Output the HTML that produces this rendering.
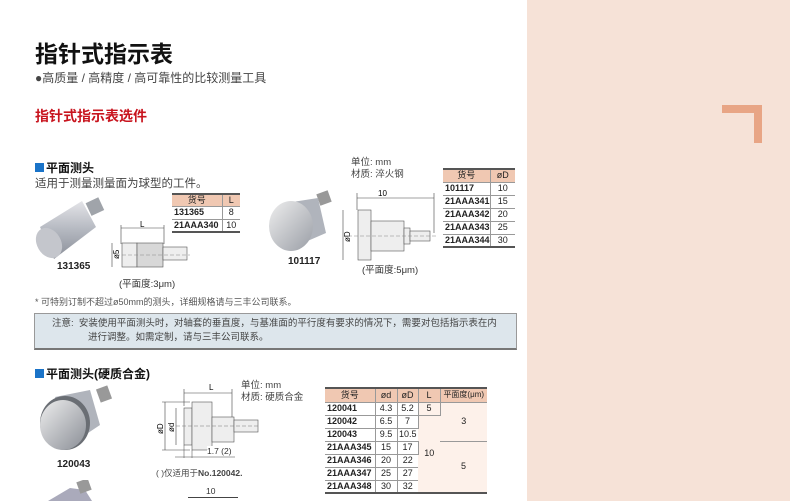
<!DOCTYPE html>
<html><head><meta charset="utf-8"><style>
*{margin:0;padding:0;box-sizing:border-box}
body{width:790px;height:501px;overflow:hidden;background:#fff;position:relative;font-family:"Liberation Sans","Noto Sans CJK SC",sans-serif;color:#222}
.a{position:absolute;white-space:nowrap}
table{position:absolute;border-collapse:collapse;font-size:9px;line-height:1}
td{border-bottom:1px solid #999;border-right:1px solid #999;text-align:center;padding:0}
td.c{text-align:left;font-weight:bold;padding-left:2px}
tr.h td{background:#f0c8b2;font-weight:normal;text-align:center}
table{border-top:2px solid #555;border-bottom:2px solid #555}
td:last-child{border-right:none}
</style></head><body>
<div class="a" style="left:527px;top:0;width:263px;height:501px;background:#f6e2d7"></div>
<div class="a" style="left:722px;top:105px;width:40px;height:8px;background:#e8a585"></div>
<div class="a" style="left:754px;top:105px;width:8px;height:38px;background:#e8a585"></div>

<div class="a" style="left:35px;top:35px;font-size:23px;font-weight:bold;color:#111">指针式指示表</div>
<div class="a" style="left:35px;top:69px;font-size:12px;color:#444">●高质量 / 高精度 / 高可靠性的比较测量工具</div>
<div class="a" style="left:35px;top:106px;font-size:14px;font-weight:bold;color:#c8141e">指针式指示表选件</div>

<div class="a" style="left:35px;top:159px;font-size:12px;font-weight:bold;color:#111"><span style="display:inline-block;width:9px;height:9px;background:#1a73c8;margin-right:2px"></span>平面测头</div>
<div class="a" style="left:35px;top:175px;font-size:11.5px;color:#444">适用于测量测量面为球型的工件。</div>

<table style="left:172px;top:193px;width:68px">
<tr class="h" style="height:12px"><td style="width:50px">货号</td><td>L</td></tr>
<tr style="height:13px"><td class="c">131365</td><td>8</td></tr>
<tr style="height:13px"><td class="c">21AAA340</td><td>10</td></tr>
</table>

<svg class="a" style="left:30px;top:195px" width="80" height="68">
<defs><linearGradient id="g1" x1="0" y1="0" x2="0" y2="1"><stop offset="0" stop-color="#e4e4e8"/><stop offset=".5" stop-color="#b4b8c0"/><stop offset="1" stop-color="#8a8e98"/></linearGradient></defs>
<rect x="58" y="5" width="14" height="14" fill="#a0a4aa" transform="rotate(-25 64 12)"/>
<path d="M10 32 L52 6 L66 32 L24 64 Z" fill="url(#g1)"/>
<ellipse cx="19" cy="48" rx="12" ry="16" fill="#c4c6cc" transform="rotate(-30 19 48)"/>
</svg>
<div class="a" style="left:57px;top:261px;font-size:10px;font-weight:bold">131365</div>

<svg class="a" style="left:108px;top:220px" width="85" height="52" font-family="Liberation Sans">
<line x1="13" y1="5" x2="13" y2="24" stroke="#444" stroke-width=".6"/><line x1="56" y1="5" x2="56" y2="24" stroke="#444" stroke-width=".6"/>
<line x1="13" y1="8" x2="56" y2="8" stroke="#444" stroke-width=".6"/>
<text x="32" y="7" font-size="8">L</text>
<line x1="4" y1="23" x2="4" y2="47" stroke="#444" stroke-width=".6"/>
<rect x="14" y="23" width="15" height="24" fill="#eee" stroke="#555" stroke-width=".6"/>
<rect x="29" y="23" width="26" height="24" fill="#d8d8d8" stroke="#555" stroke-width=".6"/>
<rect x="55" y="27" width="24" height="13" fill="#eee" stroke="#555" stroke-width=".6"/>
<line x1="8" y1="35" x2="82" y2="35" stroke="#888" stroke-width=".5" stroke-dasharray="4 2"/>
<text x="11" y="39" font-size="8" transform="rotate(-90 11 39)">ø5</text>
</svg>
<div class="a" style="left:119px;top:276px;font-size:9.5px;color:#333">(平面度:3μm)</div>

<svg class="a" style="left:266px;top:188px" width="72" height="68">
<defs><linearGradient id="g2" x1="0" y1="0" x2="1" y2="1"><stop offset="0" stop-color="#eee"/><stop offset="1" stop-color="#9a9ea6"/></linearGradient></defs>
<rect x="52" y="4" width="12" height="12" fill="#999" transform="rotate(-20 58 10)"/>
<path d="M20 15 L52 10 L60 45 L30 58 Z" fill="#b0b4bc"/>
<ellipse cx="25" cy="38" rx="22" ry="25" fill="url(#g2)"/>
</svg>
<div class="a" style="left:288px;top:256px;font-size:10px;font-weight:bold">101117</div>

<div class="a" style="left:351px;top:157px;font-size:9.5px;color:#444;line-height:12px">单位: mm<br>材质: 淬火钢</div>
<svg class="a" style="left:338px;top:188px" width="100" height="75" font-family="Liberation Sans">
<line x1="19" y1="10" x2="96" y2="10" stroke="#444" stroke-width=".6"/>
<text x="40" y="8" font-size="8">10</text>
<line x1="96" y1="5" x2="96" y2="45" stroke="#444" stroke-width=".6"/>
<line x1="19" y1="5" x2="19" y2="22" stroke="#444" stroke-width=".6"/>
<line x1="5" y1="22" x2="5" y2="72" stroke="#444" stroke-width=".6"/>
<text x="12" y="54" font-size="8" transform="rotate(-90 12 54)">øD</text>
<rect x="20" y="22" width="13" height="50" fill="#eee" stroke="#555" stroke-width=".6"/>
<rect x="33" y="33" width="33" height="30" fill="#eee" stroke="#555" stroke-width=".6"/>
<rect x="66" y="40" width="6" height="16" fill="#eee" stroke="#555" stroke-width=".6"/>
<rect x="72" y="43" width="20" height="10" fill="#eee" stroke="#555" stroke-width=".6"/>
<line x1="10" y1="48" x2="98" y2="48" stroke="#888" stroke-width=".5" stroke-dasharray="4 2"/>
</svg>
<div class="a" style="left:362px;top:262px;font-size:9.5px;color:#333">(平面度:5μm)</div>

<table style="left:443px;top:168px;width:72px">
<tr class="h" style="height:13px"><td style="width:47px">货号</td><td>øD</td></tr>
<tr style="height:13px"><td class="c">101117</td><td>10</td></tr>
<tr style="height:13px"><td class="c">21AAA341</td><td>15</td></tr>
<tr style="height:13px"><td class="c">21AAA342</td><td>20</td></tr>
<tr style="height:13px"><td class="c">21AAA343</td><td>25</td></tr>
<tr style="height:13px"><td class="c">21AAA344</td><td>30</td></tr>
</table>

<div class="a" style="left:35px;top:295px;font-size:9px;color:#555">* 可特别订制不超过ø50mm的测头，详细规格请与三丰公司联系。</div>
<div class="a" style="left:34px;top:313px;width:483px;height:37px;background:#dde6ec;border:1px solid #999;border-bottom:2px solid #777"></div>
<div class="a" style="left:52px;top:317px;font-size:9.5px;color:#444;line-height:14px">注意:&nbsp;&nbsp;安装使用平面测头时，对轴套的垂直度，与基准面的平行度有要求的情况下，需要对包括指示表在内<br><span style="padding-left:36px">进行调整。如需定制，请与三丰公司联系。</span></div>

<div class="a" style="left:35px;top:365px;font-size:12px;font-weight:bold;color:#111"><span style="display:inline-block;width:9px;height:9px;background:#1a73c8;margin-right:2px"></span>平面测头(硬质合金)</div>

<svg class="a" style="left:35px;top:385px" width="85" height="70">
<defs><linearGradient id="g3" x1="0" y1="0" x2="1" y2="1"><stop offset="0" stop-color="#eee"/><stop offset="1" stop-color="#8a8e96"/></linearGradient></defs>
<rect x="63" y="2" width="12" height="14" fill="#999" transform="rotate(-20 69 9)"/>
<path d="M20 12 L55 5 L65 40 L35 60 Z" fill="#b0b4bc"/>
<ellipse cx="30" cy="38" rx="25" ry="27" fill="#6a6e74"/>
<ellipse cx="28" cy="40" rx="23" ry="25" fill="url(#g3)"/>
</svg>
<div class="a" style="left:57px;top:459px;font-size:10px;font-weight:bold">120043</div>
<svg class="a" style="left:40px;top:480px" width="60" height="21">
<path d="M8 21 L30 8 L45 10 L52 21 Z" fill="#aab"/><rect x="38" y="0" width="12" height="12" fill="#999" transform="rotate(-20 44 6)"/>
</svg>

<div class="a" style="left:241px;top:380px;font-size:9.5px;color:#444;line-height:12px">单位: mm<br>材质: 硬质合金</div>
<svg class="a" style="left:150px;top:380px" width="112" height="80" font-family="Liberation Sans">
<line x1="34" y1="13" x2="82" y2="13" stroke="#444" stroke-width=".6"/>
<text x="59" y="10" font-size="8">L</text>
<line x1="34" y1="9" x2="34" y2="26" stroke="#444" stroke-width=".6"/><line x1="82" y1="9" x2="82" y2="37" stroke="#444" stroke-width=".6"/>
<line x1="15" y1="22" x2="15" y2="70" stroke="#444" stroke-width=".6"/>
<line x1="26" y1="28" x2="26" y2="65" stroke="#444" stroke-width=".6"/>
<line x1="12" y1="22" x2="40" y2="22" stroke="#444" stroke-width=".5"/>
<line x1="12" y1="70" x2="40" y2="70" stroke="#444" stroke-width=".5"/>
<text x="13" y="54" font-size="8" transform="rotate(-90 13 54)">øD</text>
<text x="24" y="52" font-size="8" transform="rotate(-90 24 52)">ød</text>
<rect x="34" y="28" width="8" height="37" fill="#eee" stroke="#555" stroke-width=".6"/>
<rect x="42" y="22" width="20" height="48" fill="#eee" stroke="#555" stroke-width=".6"/>
<rect x="62" y="37" width="22" height="25" fill="#eee" stroke="#555" stroke-width=".6"/>
<rect x="84" y="40" width="24" height="12" fill="#eee" stroke="#555" stroke-width=".6"/>
<line x1="20" y1="46" x2="110" y2="46" stroke="#777" stroke-width=".5" stroke-dasharray="4 2"/>
<line x1="34" y1="65" x2="34" y2="78" stroke="#444" stroke-width=".5"/><line x1="42" y1="70" x2="42" y2="78" stroke="#444" stroke-width=".5"/>
<line x1="25" y1="77" x2="85" y2="77" stroke="#444" stroke-width=".5"/>
</svg>
<div class="a" style="left:207px;top:446px;font-size:8.5px;color:#333;background:#fff">1.7 (2)</div>
<div class="a" style="left:156px;top:467px;font-size:8.5px;color:#444">( )仅适用于<b>No.120042.</b></div>
<div class="a" style="left:206px;top:486px;font-size:8.5px;color:#333">10</div>
<div class="a" style="left:188px;top:497px;width:50px;border-top:1px solid #444"></div>

<table style="left:325px;top:387px;width:162px">
<tr class="h" style="height:14px"><td style="width:50px">货号</td><td style="width:22px">ød</td><td style="width:21px">øD</td><td style="width:22px">L</td><td style="font-size:8px">平面度(μm)</td></tr>
<tr style="height:13px"><td class="c">120041</td><td>4.3</td><td>5.2</td><td style="background:#fdf1ea">5</td><td rowspan="3" style="background:#fdf1ea">3</td></tr>
<tr style="height:13px"><td class="c">120042</td><td>6.5</td><td>7</td><td rowspan="6" style="background:#fdf1ea">10</td></tr>
<tr style="height:13px"><td class="c">120043</td><td>9.5</td><td>10.5</td></tr>
<tr style="height:13px"><td class="c">21AAA345</td><td>15</td><td>17</td><td rowspan="4" style="background:#fdf1ea">5</td></tr>
<tr style="height:13px"><td class="c">21AAA346</td><td>20</td><td>22</td></tr>
<tr style="height:13px"><td class="c">21AAA347</td><td>25</td><td>27</td></tr>
<tr style="height:13px"><td class="c">21AAA348</td><td>30</td><td>32</td></tr>
</table>
</body></html>
